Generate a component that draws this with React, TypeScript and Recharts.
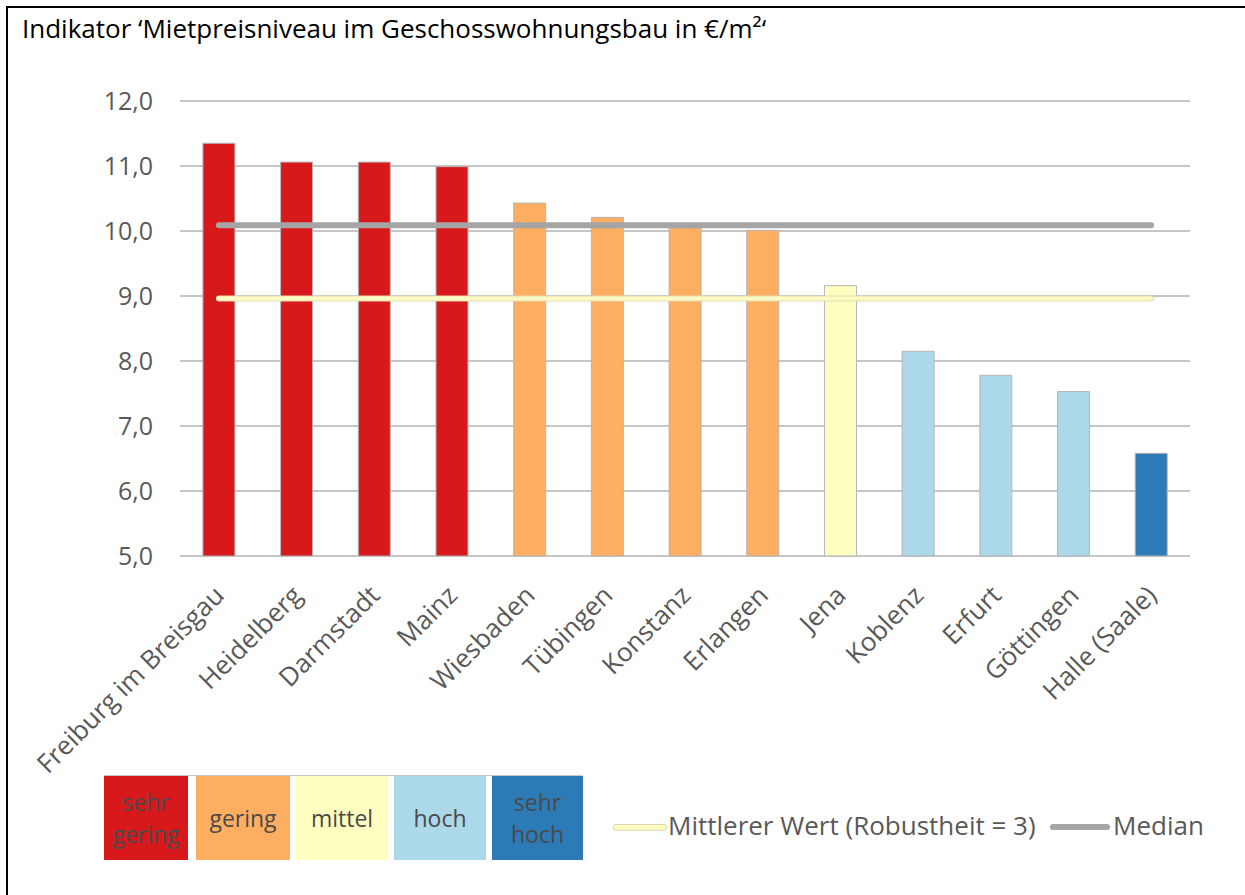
import React from 'react';
import { ComposedChart, Bar, Line, XAxis, YAxis, CartesianGrid, Cell } from 'recharts';

const cities = ['Freiburg im Breisgau', 'Heidelberg', 'Darmstadt', 'Mainz', 'Wiesbaden', 'Tübingen', 'Konstanz', 'Erlangen', 'Jena', 'Koblenz', 'Erfurt', 'Göttingen', 'Halle (Saale)'];
const rentValues = [11.35, 11.06, 11.06, 10.99, 10.43, 10.21, 10.05, 10.01, 9.16, 8.15, 7.78, 7.53, 6.58];
const classes = ['sehr gering', 'sehr gering', 'sehr gering', 'sehr gering', 'gering', 'gering', 'gering', 'gering', 'mittel', 'hoch', 'hoch', 'hoch', 'sehr hoch'];
const MEDIAN = 10.09;
const MEAN = 8.96;
const yTicks = [5, 6, 7, 8, 9, 10, 11, 12];

const classLabels = ['sehr gering', 'gering', 'mittel', 'hoch', 'sehr hoch'];
const classColors: Record<string, string> = {
  'sehr gering': '#D7191C',
  'gering': '#FDAE61',
  'mittel': '#FFFFC0',
  'hoch': '#ABD9E9',
  'sehr hoch': '#2C7BB6',
};

const data = cities.map((c, i) => ({ city: c, value: rentValues[i], cls: classes[i], median: MEDIAN, mean: MEAN }));

const FONT = '"Open Sans", Lato, sans-serif';
const TXT = '#595959';

const XTick = (props: any) => {
  const { x, y, payload } = props;
  return (
    <text
      transform={`translate(${x + 7},${y + 33}) rotate(-45)`}
      textAnchor="end"
      fontSize={26}
      fontFamily={FONT}
      fill={TXT}
    >
      {payload.value}
    </text>
  );
};

const legendBoxes: { left: number; width: number }[] = [
  { left: 104, width: 84 },
  { left: 196, width: 94 },
  { left: 296, width: 92 },
  { left: 394, width: 92 },
  { left: 492, width: 91 },
];

export default function App() {
  return (
    <div style={{ position: 'absolute', left: 0, top: 0, width: 1245, height: 895, background: '#fff', overflow: 'hidden', fontFamily: FONT }}>
      <div style={{ position: 'absolute', left: 6, top: 6, width: 1300, height: 1000, borderLeft: '2px solid #000', borderTop: '2px solid #000' }} />
      <div style={{ position: 'absolute', left: 22, top: 10, fontSize: 26, color: '#000', whiteSpace: 'nowrap' }}>
        Indikator ‘Mietpreisniveau im Geschosswohnungsbau in €/m²‘
      </div>
      <div style={{ position: 'absolute', left: 0, top: 0 }}>
        <ComposedChart width={1245} height={895} data={data} margin={{ top: 101, right: 55, bottom: 0, left: 100 }} barCategoryGap="29.5%">
          <CartesianGrid horizontal vertical={false} stroke="#C6C6C6" strokeWidth={2} />
          <XAxis dataKey="city" interval={0} height={339} tick={<XTick />} axisLine={false} tickLine={false} />
          <YAxis
            width={80}
            domain={[5, 12]}
            ticks={yTicks}
            tickFormatter={(v: number) => v.toFixed(1).replace('.', ',')}
            axisLine={false}
            tickLine={false}
            tickSize={0}
            tickMargin={27}
            tick={{ fontSize: 25, fontFamily: FONT, fill: TXT }}
          />
          <Bar dataKey="value" isAnimationActive={false} stroke="#B5B5B5" strokeWidth={1}>
            {data.map((d, i) => (
              <Cell key={i} fill={classColors[d.cls]} />
            ))}
          </Bar>
          <Line dataKey="median" stroke="#A5A5A5" strokeWidth={6} strokeLinecap="round" dot={false} activeDot={false} isAnimationActive={false} />
          <Line dataKey="mean" stroke="#DCDAB8" strokeWidth={6} strokeLinecap="round" dot={false} activeDot={false} isAnimationActive={false} />
          <Line dataKey="mean" stroke="#FFFBC0" strokeWidth={4} strokeLinecap="round" dot={false} activeDot={false} isAnimationActive={false} />
        </ComposedChart>
      </div>
      <div style={{ position: 'absolute', left: 104, top: 775, width: 479, height: 1, background: '#C8C8C8' }} />
      {classLabels.map((c, i) => {
        const parts = c.split(' ');
        return (
          <div
            key={c}
            style={{
              position: 'absolute',
              left: legendBoxes[i].left,
              top: 776,
              width: legendBoxes[i].width,
              height: 84,
              background: classColors[c],
              color: '#4A4A4A',
              fontSize: 23,
              lineHeight: '32px',
              display: 'flex',
              flexDirection: 'column',
              alignItems: 'center',
              justifyContent: 'center',
            }}
          >
            {parts.map((p) => (
              <span key={p}>{p}</span>
            ))}
          </div>
        );
      })}
      <div style={{ position: 'absolute', left: 613, top: 824, width: 52, height: 5, background: '#FFFBC0', border: '1px solid #DCDAB8', borderRadius: 3 }} />
      <div style={{ position: 'absolute', left: 668, top: 807, fontSize: 26, color: TXT, whiteSpace: 'nowrap' }}>Mittlerer Wert (Robustheit = 3)</div>
      <div style={{ position: 'absolute', left: 1050, top: 824, width: 60, height: 6, background: '#A5A5A5', borderRadius: 3 }} />
      <div style={{ position: 'absolute', left: 1113, top: 807, fontSize: 26, color: TXT, whiteSpace: 'nowrap' }}>Median</div>
    </div>
  );
}
